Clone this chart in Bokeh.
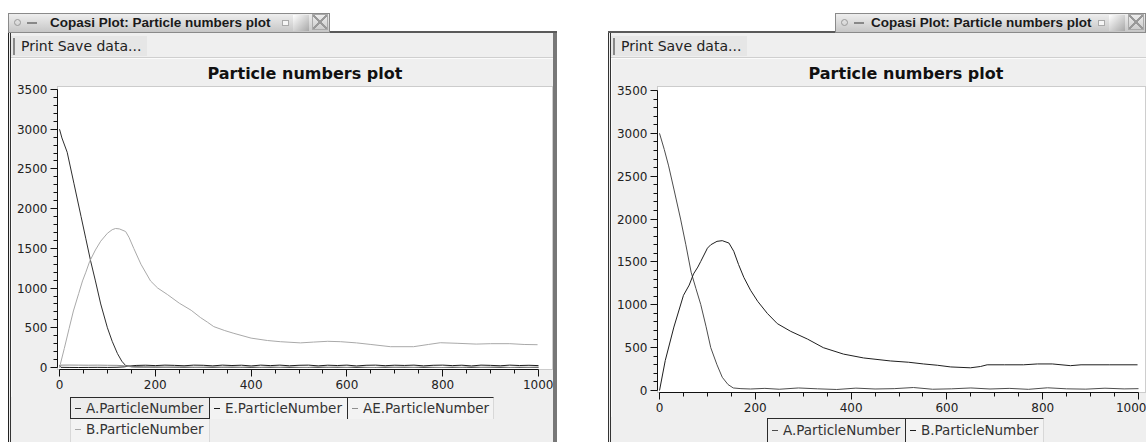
from bokeh.plotting import figure
from bokeh.models import Div, Range1d, FixedTicker, Spacer
from bokeh.layouts import row, column
from bokeh.embed import file_html
from bokeh.resources import INLINE

# ---------------- texts ----------------
PLOT_TITLE = "Particle numbers plot"
WINDOW_TITLE = "Copasi Plot: Particle numbers plot"
TOOLBAR_TEXT = "Print Save data..."

# ---------------- ticks ----------------
x_major_ticks = [0, 200, 400, 600, 800, 1000]
y_major_ticks = [0, 500, 1000, 1500, 2000, 2500, 3000, 3500]

# ---------------- left window data ----------------
left_names = ["A.ParticleNumber", "E.ParticleNumber", "AE.ParticleNumber", "B.ParticleNumber"]

left_a_t = [0, 5, 16, 30, 45, 55, 65, 75, 86, 100, 110, 121, 130, 138, 150, 175, 200, 250, 300, 350,
            400, 450, 500, 550, 600, 650, 700, 750, 800, 850, 900, 950, 1000]
left_a = [3000, 2890, 2710, 2320, 1900, 1620, 1340, 1090, 800, 500, 330, 175, 80, 25, 10, 6, 4, 3, 2, 3,
          1, 2, 0, 2, 1, 0, 2, 1, 0, 1, 2, 0, 1]

left_b_t = [0, 10, 20, 29, 40, 48, 55, 63, 75, 86, 100, 110, 117, 125, 138, 145, 155, 170, 190, 205,
            225, 250, 275, 294, 309, 322, 345, 364, 400, 434, 461, 503, 530, 560, 587, 620, 650, 691,
            739, 770, 795, 830, 870, 900, 940, 970, 998]
left_b = [0, 240, 490, 712, 930, 1090, 1200, 1337, 1480, 1590, 1690, 1735, 1750, 1745, 1712, 1640, 1500,
          1300, 1090, 1000, 920, 810, 720, 630, 570, 515, 465, 430, 370, 340, 325, 310, 320, 330, 325,
          310, 290, 262, 262, 290, 312, 305, 295, 300, 300, 290, 287]

left_e_t = [0, 3, 20, 40, 60, 80, 100, 120, 135, 145, 160, 180, 200, 220, 240, 260, 280, 300, 320, 340,
            360, 380, 400, 420, 440, 460, 480, 500, 520, 540, 560, 580, 600, 620, 640, 660, 680, 700,
            720, 740, 760, 780, 800, 820, 840, 860, 880, 900, 920, 940, 960, 980, 1000]
left_e = [30, 2, 1, 0, 1, 2, 1, 3, 8, 18, 26, 29, 24, 30, 27, 22, 30, 28, 21, 30,
          25, 29, 20, 30, 24, 30, 22, 28, 30, 21, 29, 25, 30, 20, 28, 30, 23, 29,
          26, 30, 21, 28, 30, 24, 29, 20, 30, 27, 22, 30, 25, 28, 24]
left_ae = [0, 30, 31, 30, 29, 30, 28, 27, 22, 12, 4, 1, 6, 0, 3, 8, 0, 2, 9, 0,
           5, 1, 10, 0, 6, 0, 8, 2, 0, 9, 1, 5, 0, 10, 2, 0, 7, 1,
           4, 0, 9, 2, 0, 6, 1, 10, 0, 3, 8, 0, 5, 2, 6]

# ---------------- right window data ----------------
right_names = ["A.ParticleNumber", "B.ParticleNumber"]

right_a_t = [0, 10, 19, 30, 44, 55, 66, 76, 86, 97, 107, 120, 131, 143, 154, 170, 190, 220, 250, 290,
             330, 370, 410, 450, 490, 530, 570, 610, 650, 690, 730, 770, 810, 850, 890, 930, 970, 1000]
right_a = [3000, 2810, 2620, 2350, 2000, 1700, 1380, 1190, 1005, 750, 500, 300, 155, 70, 30, 22, 18, 25,
           15, 30, 20, 12, 28, 18, 22, 35, 15, 20, 30, 18, 25, 14, 32, 20, 16, 27, 19, 22]

right_b_t = [0, 12, 30, 50, 62, 71, 80, 86, 100, 107, 120, 131, 145, 155, 165, 176, 190, 205, 225, 246,
             274, 309, 342, 384, 426, 482, 520, 551, 580, 608, 649, 670, 684, 720, 760, 789, 820, 858,
             880, 940, 998]
right_b = [0, 350, 740, 1110, 1230, 1360, 1440, 1505, 1660, 1700, 1740, 1748, 1720, 1624, 1470, 1320,
           1170, 1040, 900, 780, 690, 600, 500, 425, 380, 345, 330, 310, 295, 275, 265, 280, 300, 300,
           300, 310, 310, 290, 300, 300, 300]

left_colors = ["#2e2e2e", "#1c1c1c", "#8f8f8f", "#a9a9a9"]
right_colors = ["#4d4d4d", "#1f1f1f"]

FONT = "DejaVu Sans"
WIN_BG = "#efefef"
DARK = "#2a2a2a"
LIGHT = "#d8d8d8"


def make_plot(width, height, x_end, y_start, y_end, bottom, title_offset, series, colors):
    p = figure(width=width, height=height, x_range=Range1d(-4.2, x_end), y_range=Range1d(y_start, y_end),
               output_backend="svg", toolbar_location=None,
               min_border_left=46, min_border_right=0, min_border_top=26, min_border_bottom=bottom,
               background_fill_color="white", border_fill_color=WIN_BG,
               outline_line_color="#9c9c9c", outline_line_dash="1 1", outline_line_width=1)
    p.title.text = PLOT_TITLE
    p.title.align = "left"
    p.title.offset = title_offset
    p.title.standoff = 7
    p.title.text_font = FONT
    p.title.text_font_size = "16px"
    p.title.text_font_style = "bold"
    p.title.text_color = "#111111"
    p.grid.visible = False

    p.xaxis.ticker = FixedTicker(ticks=x_major_ticks,
                                 minor_ticks=[v for v in range(0, 1001, 50) if v % 200])
    p.yaxis.ticker = FixedTicker(ticks=y_major_ticks,
                                 minor_ticks=[v for v in range(0, 3501, 100) if v % 500])
    p.xaxis.bounds = (x_major_ticks[0], x_major_ticks[-1])
    p.yaxis.bounds = (y_major_ticks[0], y_major_ticks[-1])
    for ax in (p.xaxis, p.yaxis):
        ax.axis_line_color = "#111111"
        ax.axis_line_width = 1
        ax.major_tick_line_color = "#111111"
        ax.minor_tick_line_color = "#111111"
        ax.major_tick_in = 0
        ax.major_tick_out = 7
        ax.minor_tick_in = 0
        ax.minor_tick_out = 4
        ax.major_label_text_font = FONT
        ax.major_label_text_font_size = "12px"
        ax.major_label_text_color = "#222222"
        ax.major_label_standoff = 3

    for (t, v), c in zip(series, colors):
        p.line(t, v, line_color=c, line_width=1)
    return p


def legend_div(width, height, boxes):
    parts = [f'<div style="position:relative;width:{width}px;height:{height}px;background:{WIN_BG};">']
    for (left, top, w, h, css, label, color) in boxes:
        parts.append(
            f'<div style="position:absolute;box-sizing:border-box;left:{left}px;top:{top}px;'
            f'width:{w}px;height:{h}px;{css}">'
            f'<span style="position:absolute;left:4px;top:{h // 2 - 1}px;width:6px;height:1px;'
            f'background:{color};"></span>'
            f"<span style=\"position:absolute;left:15px;top:0px;font-family:'DejaVu Sans';"
            f'font-size:13.5px;line-height:{h - 2}px;color:#333;white-space:nowrap;">{label}</span>'
            '</div>')
    parts.append('</div>')
    return Div(text="".join(parts), width=width, height=height, margin=0)


def title_tab(width, pad):
    html = (
        f'<div style="position:relative;box-sizing:border-box;width:{width}px;height:20px;'
        'background:linear-gradient(#eeeeee,#c6c6c6);border:1px solid #8a8a8a;'
        "font-family:'Liberation Sans',Arial,sans-serif;font-weight:bold;font-size:13.5px;"
        'line-height:18px;color:#1a1a1a;white-space:nowrap;overflow:hidden;">'
        f'<span style="position:absolute;left:{pad}px;top:0px;">{WINDOW_TITLE}</span>'
        '<span style="position:absolute;left:5px;top:5px;width:7px;height:7px;border:1px solid #999;'
        'border-radius:50%;"></span>'
        '<span style="position:absolute;left:18px;top:8px;width:10px;height:2px;background:#888;"></span>'
        '<span style="position:absolute;right:40px;top:6px;width:7px;height:6px;border:1px solid #aaa;'
        'background:#f6f6f6;"></span>'
        '<span style="position:absolute;right:20px;top:1px;width:16px;height:16px;'
        'background:linear-gradient(135deg,#ffffff,#a8a8a8);"></span>'
        '<span style="position:absolute;right:1px;top:0px;width:16px;height:16px;border:1px solid #aaa;'
        'background:linear-gradient(45deg,transparent 46%,#999 46%,#999 54%,transparent 54%),'
        'linear-gradient(-45deg,transparent 46%,#999 46%,#999 54%,transparent 54%);"></span>'
        '</div>'
    )
    return Div(text=html, width=width, height=20, margin=0)


def frame_line(width):
    html = (f'<div style="box-sizing:border-box;width:{width}px;height:20px;'
            f'border-bottom:2px solid #5a5a5a;"></div>')
    return Div(text=html, width=width, height=20, margin=0)


def toolbar(width):
    html = (
        f'<div style="position:relative;box-sizing:border-box;width:{width}px;height:25px;'
        f'background:{WIN_BG};border-bottom:1px solid #cfcfcf;">'
        '<div style="position:absolute;left:0px;top:3px;width:136px;height:20px;background:#e6e6e6;"></div>'
        '<div style="position:absolute;left:2px;top:5px;width:2px;height:17px;border-left:1px solid #888;'
        'border-right:1px solid #888;"></div>'
        f"<span style=\"position:absolute;left:10px;top:3px;font-family:'DejaVu Sans';font-size:14px;"
        f'line-height:21px;color:#222;white-space:nowrap;">{TOOLBAR_TEXT}</span>'
        '</div>'
    )
    return Div(text=html, width=width, height=25, margin=0)


def vbar(width, height, css):
    return Div(text=f'<div style="box-sizing:border-box;width:{width}px;height:{height}px;{css}"></div>',
               width=width, height=height, margin=0)


# ---------------- left window ----------------
pL = make_plot(542, 339, 1031.3, -25, 3537.5, 28, 150,
               [(left_a_t, left_a), (left_e_t, left_e), (left_e_t, left_ae), (left_b_t, left_b)],
               left_colors)
legL = legend_div(542, 45, [
    (59, 0, 140, 22, f"border:1px solid {DARK};background:#ececec;", left_names[0], left_colors[0]),
    (199, 0, 138, 22, f"border-top:1px solid {DARK};border-right:1px solid {DARK};background:#f3f3f3;",
     left_names[1], left_colors[1]),
    (337, 0, 146, 22, f"border-top:1px solid {DARK};border-right:1px solid {LIGHT};background:#f3f3f3;",
     left_names[2], left_colors[2]),
    (59, 22, 140, 23, f"border-left:1px solid {LIGHT};border-right:1px solid {LIGHT};background:#f3f3f3;",
     left_names[3], left_colors[3]),
])
left_col = column(
    Spacer(width=549, height=13),
    row(title_tab(322, 41), frame_line(227)),
    row(vbar(3, 409, f"background:{WIN_BG};border-left:1px solid #222;border-right:1px solid #333;"),
        column(toolbar(542), pL, legL),
        vbar(4, 409, "background:#777;")),
)

# ---------------- right window ----------------
pR = make_plot(535, 359, 1016.7, -23, 3546, 25, 151,
               [(right_a_t, right_a), (right_b_t, right_b)],
               right_colors)
legR = legend_div(535, 25, [
    (156, 1, 139, 24, f"border-top:1px solid {DARK};border-left:1px solid {DARK};"
                      f"border-right:1px solid {DARK};background:#efefef;", right_names[0], right_colors[0]),
    (295, 1, 138, 24, f"border-top:1px solid {DARK};border-right:1px solid {LIGHT};background:#f3f3f3;",
     right_names[1], right_colors[1]),
])
right_col = column(
    Spacer(width=538, height=13),
    row(frame_line(227), title_tab(311, 35)),
    row(vbar(3, 409, f"background:{WIN_BG};border-left:1px solid #333;border-right:1px solid #333;"),
        column(toolbar(535), pR, legR)),
)

layout = row(Spacer(width=8, height=442), left_col, Spacer(width=51, height=442), right_col)

with open("out.html", "w") as f:
    f.write(file_html(layout, INLINE))
